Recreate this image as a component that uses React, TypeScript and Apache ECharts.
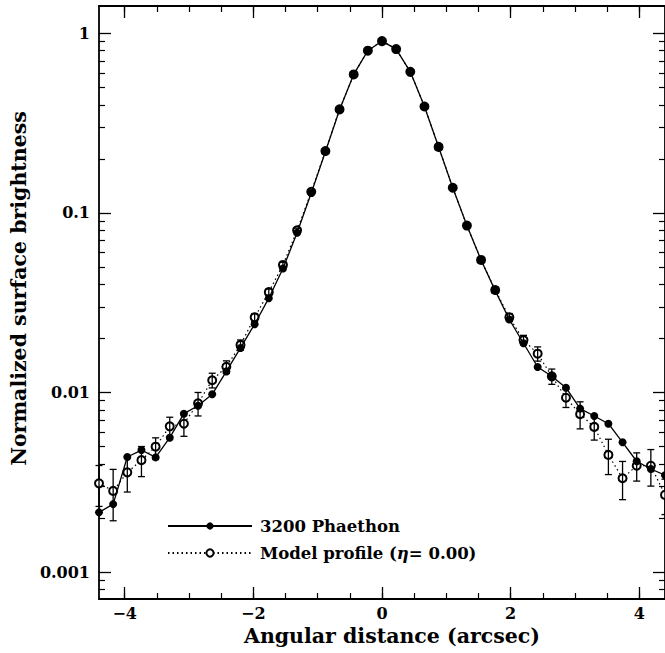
import React, { useEffect, useRef } from "react";
import * as echarts from "echarts";

// Angular distance (arcsec)
const xValues = [
  -4.4, -4.18, -3.96, -3.74, -3.52, -3.3, -3.08, -2.86, -2.64, -2.42, -2.2,
  -1.98, -1.76, -1.54, -1.32, -1.1, -0.88, -0.66, -0.44, -0.22, 0, 0.22, 0.44,
  0.66, 0.88, 1.1, 1.32, 1.54, 1.76, 1.98, 2.2, 2.42, 2.64, 2.86, 3.08, 3.3,
  3.52, 3.74, 3.96, 4.18, 4.4,
];

// 3200 Phaethon (filled circles, solid line)
const phaethon = [
  0.00215, 0.00239, 0.00437, 0.00478, 0.00435, 0.0056, 0.00762, 0.00844,
  0.00977, 0.0131, 0.0177, 0.024, 0.0335, 0.049, 0.0775, 0.129, 0.219, 0.375,
  0.59, 0.8, 0.905, 0.817, 0.61, 0.391, 0.233, 0.138, 0.085, 0.0547, 0.0369,
  0.0255, 0.0188, 0.01387, 0.0123, 0.01063, 0.00813, 0.0074, 0.0067, 0.00528,
  0.00414, 0.00375, 0.00346,
];

// Model profile (open circles, dotted line)
const model = [
  0.00312, 0.00283, 0.00359, 0.0042, 0.00499, 0.00648, 0.0067, 0.0087, 0.0117,
  0.0139, 0.0184, 0.0262, 0.0362, 0.0513, 0.08, 0.131, 0.221, 0.377, 0.59, 0.8,
  0.905, 0.817, 0.61, 0.391, 0.233, 0.138, 0.085, 0.0547, 0.0372, 0.0262,
  0.0196, 0.01644, 0.0123, 0.00935, 0.00757, 0.00643, 0.00449, 0.00333,
  0.00391, 0.00391, 0.00269,
];

// Model profile error (absolute, +/-)
const modelErr = [
  0.0008, 0.0009, 0.0008, 0.0008, 0.0006, 0.0008, 0.001, 0.0013, 0.0011,
  0.0011, 0.0012, 0.0013, 0.0015, 0.0018, 0.0022, 0.003, 0.004, 0.006, 0.008,
  0.01, 0.01, 0.01, 0.008, 0.006, 0.004, 0.003, 0.0022, 0.0018, 0.0015, 0.0013,
  0.0012, 0.0015, 0.0012, 0.0011, 0.0013, 0.001, 0.001, 0.0008, 0.0007,
  0.0009, 0.0006,
];

const seriesNames = ["3200 Phaethon", "Model profile (η= 0.00)"];
const xTitle = "Angular distance (arcsec)";
const yTitle = "Normalized surface brightness";

const xMajorTicks = [-4, -2, 0, 2, 4];
const xMinorTicks = [-4, -3.5, -3, -2.5, -2, -1.5, -1, -0.5, 0, 0.5, 1, 1.5, 2, 2.5, 3, 3.5, 4];
const yMajorTicks = [0.001, 0.01, 0.1, 1];
const yMajorLabels = ["0.001", "0.01", "0.1", "1"];

const X_MIN = -4.4;
const X_MAX = 4.4;
const Y_MIN = Math.pow(10, -3.15);
const Y_MAX = Math.pow(10, 0.152);

const yMinorTicks: number[] = [];
for (let d = -4; d <= 0; d++) {
  for (let k = 2; k <= 9; k++) {
    const v = k * Math.pow(10, d);
    if (v > Y_MIN && v < Y_MAX) yMinorTicks.push(v);
  }
}

const FONT = "DejaVu Serif";
const BLACK = "#000";

export default function App() {
  const ref = useRef<HTMLDivElement>(null);

  useEffect(() => {
    if (!ref.current) return;
    const chart = echarts.init(ref.current, undefined, { renderer: "svg" });

    const phData = xValues.map((x, i) => [x, phaethon[i]]);
    const mdData = xValues.map((x, i) => [x, model[i]]);
    const errData = xValues.map((x, i) => [x, model[i] - modelErr[i], model[i] + modelErr[i]]);

    const fmtX = (v: number) => (v < 0 ? "\u2212" + Math.abs(v) : String(v));
    const fmtY = (v: number) => {
      const i = yMajorTicks.findIndex((t) => Math.abs(t - v) / t < 1e-6);
      return i >= 0 ? yMajorLabels[i] : "";
    };

    const axisLineStyle = { color: BLACK, width: 1.8 };
    const majorLen = 12;
    const minorLen = 6;

    const xAxisBase = {
      type: "value" as const,
      min: X_MIN,
      max: X_MAX,
      splitLine: { show: false },
    };
    const yAxisBase = {
      type: "log" as const,
      min: Y_MIN,
      max: Y_MAX,
      splitLine: { show: false },
      minorTick: { show: false },
    };

    chart.setOption({
      animation: false,
      backgroundColor: "#fff",
      textStyle: { fontFamily: FONT, color: BLACK },
      grid: { left: 97, right: -3, top: 6, bottom: 54, containLabel: false },
      legend: {
        orient: "vertical",
        left: 162,
        top: 512,
        itemWidth: 84,
        itemHeight: 9,
        itemGap: 9,
        data: seriesNames,
        textStyle: {
          fontFamily: FONT,
          fontWeight: "bold",
          fontSize: 16.5,
          lineHeight: 18,
          color: BLACK,
          padding: [0, 0, 0, 3],
          rich: {
            a: { fontFamily: FONT, fontWeight: "bold", fontSize: 16.5, color: BLACK },
            i: { fontFamily: FONT, fontWeight: "bold", fontStyle: "italic", fontSize: 16.5, color: BLACK },
          },
        },
        formatter: (name: string) => {
          if (name.indexOf("η") >= 0) {
            const parts = name.split("η");
            return "{a|" + parts[0] + "}{i|η}{a|" + parts[1] + "}";
          }
          return name;
        },
      },
      xAxis: [
        {
          ...xAxisBase,
          position: "bottom",
          name: xTitle,
          nameLocation: "middle",
          nameGap: 23,
          nameTextStyle: { fontFamily: FONT, fontWeight: "bold", fontSize: 20.5, color: BLACK, padding: [0, 0, 0, 20] },
          axisLine: { show: true, onZero: false, lineStyle: axisLineStyle },
          axisTick: { show: true, inside: true, length: majorLen, customValues: xMajorTicks, lineStyle: { color: BLACK, width: 1.3 } },
          axisLabel: { show: true, customValues: xMajorTicks, formatter: fmtX, margin: 6, fontFamily: FONT, fontWeight: "bold", fontSize: 16, color: BLACK },
        },
        {
          ...xAxisBase,
          position: "bottom",
          axisLine: { show: false, onZero: false },
          axisTick: { show: true, inside: true, length: minorLen, customValues: xMinorTicks, lineStyle: { color: BLACK, width: 1.2 } },
          axisLabel: { show: false },
        },
        {
          ...xAxisBase,
          position: "top",
          axisLine: { show: true, onZero: false, lineStyle: axisLineStyle },
          axisTick: { show: true, inside: true, length: majorLen, customValues: xMajorTicks, lineStyle: { color: BLACK, width: 1.3 } },
          axisLabel: { show: false },
        },
        {
          ...xAxisBase,
          position: "top",
          axisLine: { show: false, onZero: false },
          axisTick: { show: true, inside: true, length: minorLen, customValues: xMinorTicks, lineStyle: { color: BLACK, width: 1.2 } },
          axisLabel: { show: false },
        },
      ],
      yAxis: [
        {
          ...yAxisBase,
          position: "left",
          name: yTitle,
          nameLocation: "middle",
          nameGap: 64,
          nameTextStyle: { fontFamily: FONT, fontWeight: "bold", fontSize: 20.5, color: BLACK, padding: [0, 0, 0, 28] },
          axisLine: { show: true, onZero: false, lineStyle: axisLineStyle },
          axisTick: { show: true, inside: true, length: majorLen, customValues: yMajorTicks, lineStyle: { color: BLACK, width: 1.3 } },
          axisLabel: { show: true, customValues: yMajorTicks, formatter: fmtY, margin: 9, fontFamily: FONT, fontWeight: "bold", fontSize: 16, color: BLACK },
        },
        {
          ...yAxisBase,
          position: "left",
          axisLine: { show: false, onZero: false },
          axisTick: { show: true, inside: true, length: minorLen, customValues: yMinorTicks, lineStyle: { color: BLACK, width: 1.2 } },
          axisLabel: { show: false },
        },
        {
          ...yAxisBase,
          position: "right",
          axisLine: { show: true, onZero: false, lineStyle: axisLineStyle },
          axisTick: { show: true, inside: true, length: majorLen, customValues: yMajorTicks, lineStyle: { color: BLACK, width: 1.3 } },
          axisLabel: { show: false },
        },
        {
          ...yAxisBase,
          position: "right",
          axisLine: { show: false, onZero: false },
          axisTick: { show: true, inside: true, length: minorLen, customValues: yMinorTicks, lineStyle: { color: BLACK, width: 1.2 } },
          axisLabel: { show: false },
        },
      ],
      series: [
        {
          name: seriesNames[1],
          type: "line",
          data: mdData,
          xAxisIndex: 0,
          yAxisIndex: 0,
          z: 2,
          clip: false,
          symbol: "emptyCircle",
          symbolSize: 8,
          showAllSymbol: true,
          lineStyle: { color: BLACK, width: 1.2, type: [1.5, 3] },
          itemStyle: { color: BLACK, borderColor: BLACK, borderWidth: 1.1 },
        },
        {
          name: "err",
          type: "custom",
          data: errData,
          xAxisIndex: 0,
          yAxisIndex: 0,
          z: 3,
          clip: false,
          renderItem: (params: any, api: any) => {
            const x = api.value(0);
            const top = api.coord([x, api.value(2)]);
            const bot = api.coord([x, api.value(1)]);
            const cap = 3.5;
            const style = { stroke: BLACK, lineWidth: 1.3 };
            return {
              type: "group",
              children: [
                { type: "line", shape: { x1: top[0], y1: top[1], x2: bot[0], y2: bot[1] }, style },
                { type: "line", shape: { x1: top[0] - cap, y1: top[1], x2: top[0] + cap, y2: top[1] }, style },
                { type: "line", shape: { x1: bot[0] - cap, y1: bot[1], x2: bot[0] + cap, y2: bot[1] }, style },
              ],
            };
          },
        },
        {
          name: seriesNames[0],
          type: "line",
          data: phData,
          xAxisIndex: 0,
          yAxisIndex: 0,
          z: 4,
          clip: false,
          symbol: "circle",
          symbolSize: 8,
          showAllSymbol: true,
          lineStyle: { color: BLACK, width: 1.3 },
          itemStyle: { color: BLACK },
        },
      ],
    });

    return () => chart.dispose();
  }, []);

  return (
    <div
      ref={ref}
      style={{ position: "fixed", left: 0, top: 0, width: 665, height: 653, background: "#fff" }}
    />
  );
}
